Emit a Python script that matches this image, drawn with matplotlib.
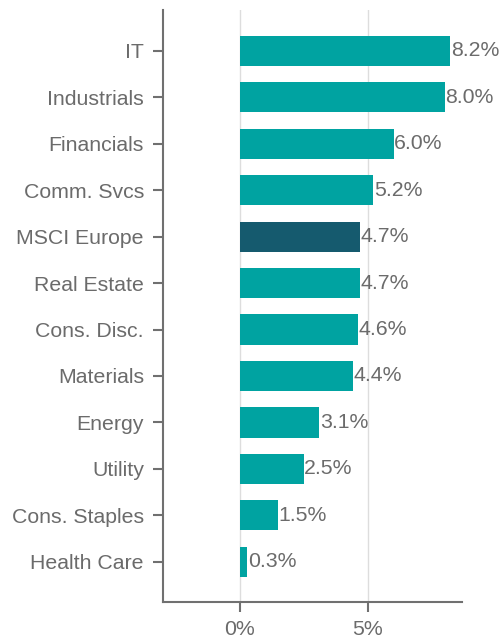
import matplotlib.pyplot as plt

sectors = ['IT', 'Industrials', 'Financials', 'Comm. Svcs', 'MSCI Europe',
           'Real Estate', 'Cons. Disc.', 'Materials', 'Energy', 'Utility',
           'Cons. Staples', 'Health Care']
values = [8.2, 8.0, 6.0, 5.2, 4.7, 4.7, 4.6, 4.4, 3.1, 2.5, 1.5, 0.3]
highlight = 'MSCI Europe'

plt.rcParams['font.family'] = ['Liberation Sans', 'DejaVu Sans']

teal = '#00a3a1'
dark = '#155a6e'
grey = '#6b6b6b'

fig = plt.figure(figsize=(5.02, 6.36), dpi=100)
ax = fig.add_axes([162.7 / 502, (636 - 601.7) / 636, 299 / 502, (601.7 - 10) / 636])

pos = list(range(len(sectors)))[::-1]
colors = [dark if s == highlight else teal for s in sectors]
ax.barh(pos, values, height=0.65, color=colors, zorder=2)

for p, v in zip(pos, values):
    ax.text(v + 0.02, p, f'{v:.1f}%', va='center', ha='left', fontsize=15.3, color=grey)

ax.set_yticks(pos)
ax.set_yticklabels(sectors)
ax.set_xticks([0, 5])
ax.set_xticklabels(['0%', '5%'])
ax.set_xlim(-3, 8.65)
ax.set_ylim(-0.86, 11.88)

ax.grid(axis='x', color='#dddddd', linewidth=1, zorder=0)
for s in ['top', 'right']:
    ax.spines[s].set_visible(False)
for s in ['left', 'bottom']:
    ax.spines[s].set_color('#707070')
    ax.spines[s].set_linewidth(1.5)
ax.tick_params(axis='both', colors='#707070', labelcolor=grey, labelsize=15.3,
               length=7, width=1.5)
ax.tick_params(axis='y', pad=6.5)
ax.tick_params(axis='x', pad=6.5)

plt.savefig('out.png', dpi=100)
